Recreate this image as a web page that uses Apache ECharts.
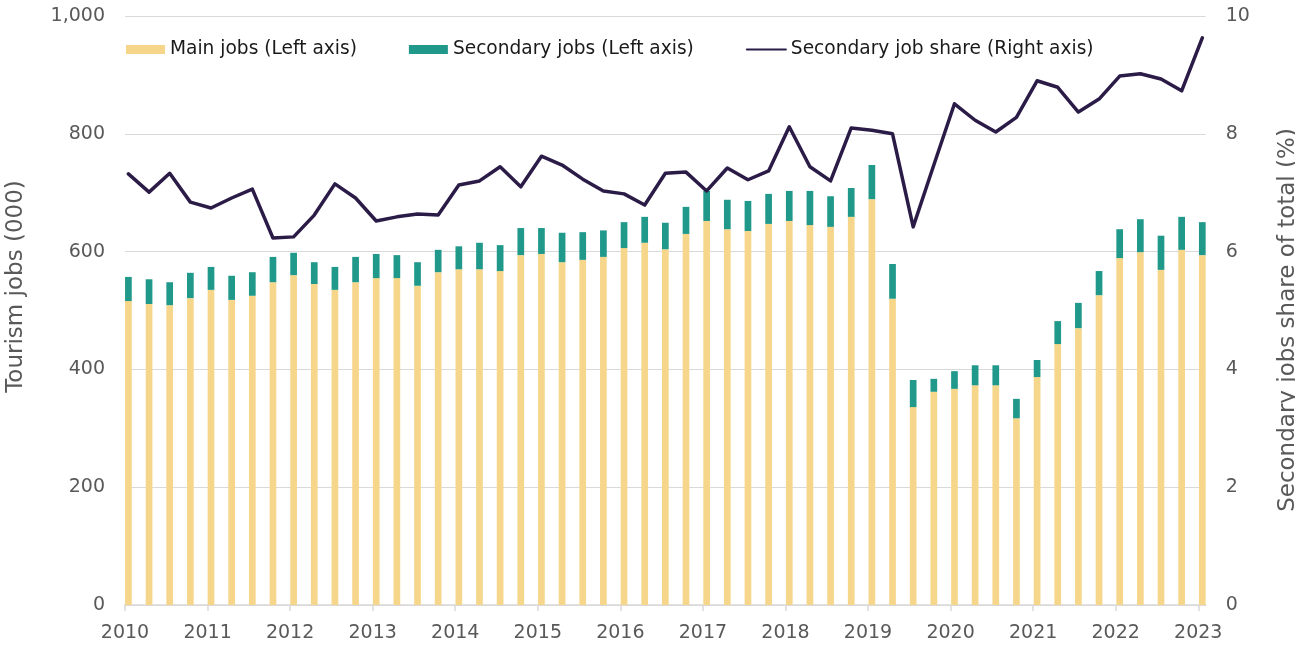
<!DOCTYPE html>
<html>
<head>
<meta charset="utf-8">
<title>Tourism jobs</title>
<script src="https://cdn.jsdelivr.net/npm/echarts@6/dist/echarts.min.js"></script>
<style>
  html, body { margin: 0; padding: 0; background: #fff; }
  #chartmain { width: 1295px; height: 646px; }
</style>
</head>
<body>
<div id="chartmain"></div>
<script>
    // year tick labels, one every 4 quarters
    var yearTicks = ['2010', '2011', '2012', '2013', '2014', '2015', '2016', '2017', '2018', '2019', '2020', '2021', '2022', '2023'];

    // quarterly categories 2010 Q1 .. 2023 Q1
    var quarters = [];
    for (var i = 0; i < yearTicks.length; i++) {
        for (var q = 1; q <= 4; q++) {
            if (i == yearTicks.length - 1 && q > 1) break;
            quarters.push(yearTicks[i] + ' Q' + q);
        }
    }

    // main jobs (000)
    var mainJobs = [516, 511, 509, 521, 535, 518, 525, 548, 560, 545, 535, 548,
        555, 555, 542, 565, 570, 570, 567, 594, 596, 582, 586, 591,
        606, 615, 604, 630, 652, 638, 635, 647, 652, 645, 642, 659,
        689, 520, 336, 362, 367, 373, 373, 317, 387, 443, 470, 526,
        589, 599, 569, 603, 594];

    // secondary jobs (000)
    var secondaryJobs = [41, 42, 39, 43, 39, 41, 40, 43, 38, 37, 39, 43,
        41, 39, 40, 38, 39, 45, 44, 46, 44, 50, 47, 45,
        44, 44, 45, 46, 51, 50, 51, 51, 51, 58, 52, 49,
        58, 59, 46, 22, 30, 34, 34, 33, 29, 39, 43, 41,
        49, 56, 58, 56, 56];

    // secondary job share of total (%)
    var secondaryShare = [7.32, 7.01, 7.33, 6.84, 6.74, 6.91, 7.06, 6.23, 6.25, 6.62, 7.15, 6.91,
        6.52, 6.59, 6.64, 6.62, 7.13, 7.20, 7.44, 7.10, 7.62, 7.47, 7.23, 7.03,
        6.98, 6.79, 7.33, 7.35, 7.03, 7.42, 7.22, 7.37, 8.12, 7.44, 7.20, 8.10,
        8.06, 8.00, 6.42, 7.47, 8.51, 8.23, 8.03, 8.28, 8.90, 8.79, 8.37, 8.59,
        8.98, 9.02, 8.93, 8.73, 9.63];

    var tickPos = [];
    for (var k = 0; k < yearTicks.length; k++) tickPos.push(k * 4);

    var font = 'DejaVu Sans';
    var grey = '#595959';

    var option = {
        animation: false,
        textStyle: {fontFamily: font},
        legend: {
            left: 126,
            top: 40,
            padding: 0,
            itemWidth: 39,
            itemHeight: 9,
            itemGap: 52,
            textStyle: {fontFamily: font, fontSize: 18.6, color: '#1a1a1a'},
            data: [
                {name: 'Main jobs (Left axis)', icon: 'rect'},
                {name: 'Secondary jobs (Left axis)', icon: 'rect'},
                {name: 'Secondary job share (Right axis)', itemStyle: {opacity: 0}}
            ]
        },
        grid: [
            {left: 125, right: 89.3, top: 16, bottom: 41, outerBoundsMode: 'none'},
            {left: 128.4, right: 92.7, top: 16, bottom: 41, outerBoundsMode: 'none'}
        ],
        xAxis: [
            {
                gridIndex: 0,
                type: 'value',
                min: 0,
                max: 52.36,
                interval: 4,
                axisLine: {lineStyle: {color: '#d9d9d9', width: 1.5}},
                axisTick: {show: true, length: 6, customValues: tickPos, lineStyle: {color: '#d9d9d9', width: 1.5}},
                axisLabel: {
                    customValues: tickPos,
                    margin: 19,
                    fontSize: 19,
                    color: grey,
                    fontFamily: font,
                    formatter: function (v) {
                        var idx = Math.round(v / 4);
                        return yearTicks[idx] || '';
                    }
                },
                splitLine: {show: false}
            },
            {
                gridIndex: 1,
                type: 'category',
                boundaryGap: false,
                data: quarters,
                show: false
            }
        ],
        yAxis: [
            {
                gridIndex: 0,
                type: 'value',
                min: 0,
                max: 1000,
                interval: 200,
                name: 'Tourism jobs (000)',
                nameLocation: 'middle',
                nameGap: 97,
                nameTextStyle: {fontSize: 23, color: grey, fontFamily: font, padding: [0, 0, 0, 48]},
                axisLine: {show: false},
                axisTick: {show: false},
                axisLabel: {
                    margin: 20, fontSize: 19, color: grey, fontFamily: font,
                    formatter: function (v) { return v >= 1000 ? '1,' + String(v).slice(1) : String(v); }
                },
                splitLine: {lineStyle: {color: '#d9d9d9', width: 1.2}}
            },
            {
                gridIndex: 0,
                type: 'value',
                position: 'right',
                min: 0,
                max: 10,
                interval: 2,
                name: 'Secondary jobs share of total (%)',
                nameLocation: 'middle',
                nameGap: 71,
                nameTextStyle: {fontSize: 23, color: grey, fontFamily: font, padding: [0, 19, 0, 0]},
                axisLine: {show: false},
                axisTick: {show: false},
                axisLabel: {margin: 20, fontSize: 19, color: grey, fontFamily: font},
                splitLine: {show: false}
            },
            {gridIndex: 1, type: 'value', min: 0, max: 1000, show: false, splitLine: {show: false}},
            {gridIndex: 1, type: 'value', min: 0, max: 10, show: false, splitLine: {show: false}}
        ],
        series: [
            {
                name: 'Main jobs (Left axis)',
                type: 'bar',
                stack: 'jobs',
                xAxisIndex: 1,
                yAxisIndex: 2,
                barWidth: 6.7,
                itemStyle: {color: '#F6D68B'},
                data: mainJobs
            },
            {
                name: 'Secondary jobs (Left axis)',
                type: 'bar',
                stack: 'jobs',
                xAxisIndex: 1,
                yAxisIndex: 2,
                barWidth: 6.7,
                itemStyle: {color: '#20998A'},
                data: secondaryJobs
            },
            {
                name: 'Secondary job share (Right axis)',
                type: 'line',
                xAxisIndex: 1,
                yAxisIndex: 3,
                symbol: 'none',
                showSymbol: false,
                itemStyle: {color: '#2B1B47'},
                lineStyle: {color: '#2B1B47', width: 3.5, cap: 'round', join: 'round'},
                data: secondaryShare
            }
        ]
    };

    var myChart = echarts.init(document.getElementById('chartmain'));
    myChart.setOption(option);
</script>
</body>
</html>
